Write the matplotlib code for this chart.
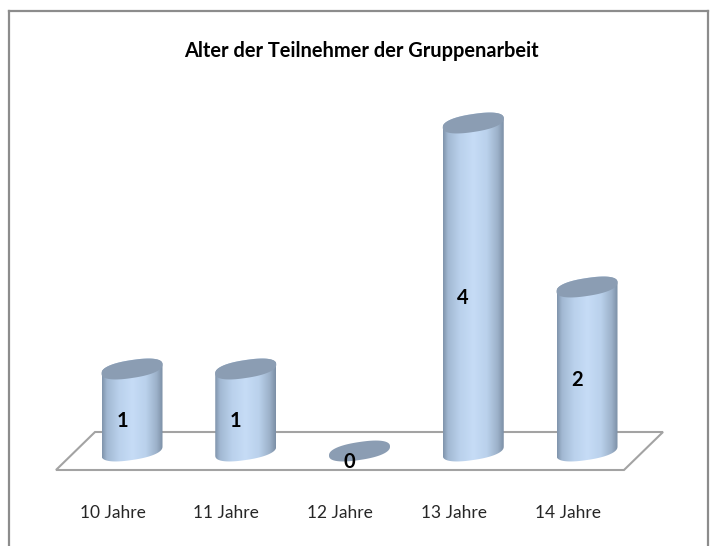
import matplotlib
matplotlib.use("Agg")
import matplotlib.pyplot as plt
import numpy as np
from matplotlib.patches import Polygon

categories = ["10 Jahre", "11 Jahre", "12 Jahre", "13 Jahre", "14 Jahre"]
values = [1, 1, 0, 4, 2]
title = "Alter der Teilnehmer der Gruppenarbeit"

W, H = 712, 546
# pixel spacing of the categories and of one unit of value
PX_X = 113.75
PX_Y = 82.0
X0, Y0 = 132.0, 451.0

plt.rcParams['font.family'] = ['Lato', 'DejaVu Sans']

fig = plt.figure(figsize=(W / 100, H / 100), dpi=100)
left, right, top = 9, 708, 11
ax = fig.add_axes([left / W, 0, (right - left) / W, (H - top) / H])
xlim = ((left - X0) / PX_X, (right - X0) / PX_X)
ylim = ((Y0 - H) / PX_Y, (Y0 - top) / PX_Y)

for s in ['left', 'right', 'top']:
    ax.spines[s].set_color('#8c8c8c')
    ax.spines[s].set_linewidth(1.6)
ax.spines['bottom'].set_visible(False)
ax.set_xticks([])
ax.set_yticks([])

# floor
fx = (np.array([56, 95, 663, 624]) - X0) / PX_X
fy = (Y0 - np.array([470, 432, 432, 470])) / PX_Y
ax.add_patch(Polygon(np.column_stack([fx, fy]), closed=True, fc='white', ec='#a3a3a3', lw=1.5, zorder=1))

# horizontal shading of the cylinders
stops = [0, 0.08, 0.28, 0.5, 0.72, 0.9, 1]
cols = np.array([[0x80, 0x94, 0xac], [0xa2, 0xb8, 0xd2], [0xba, 0xd1, 0xec], [0xc6, 0xdc, 0xf6],
                 [0xba, 0xd1, 0xec], [0x9c, 0xb1, 0xc9], [0x7c, 0x8f, 0xa6]]) / 255
t = np.linspace(0, 1, 128)
grad = np.stack([np.interp(t, stops, cols[:, i]) for i in range(3)], axis=1)[None, :, :]

a = 30.5 / PX_X
b = 9.0 / PX_Y
k = 4.5 / PX_Y


def rim(i, v, ang):
    # slightly blunt, tilted ellipse around (i, v)
    c = np.sign(np.cos(ang)) * np.abs(np.cos(ang)) ** 0.85
    s = np.sign(np.sin(ang)) * np.abs(np.sin(ang)) ** 0.85
    return i + a * c, v + b * s + k * c


for i, v in enumerate(values):
    if v > 0:
        # lower half of base ellipse (left to right), then upper half of the top one
        lx, ly = rim(i, 0, np.linspace(np.pi, 2 * np.pi, 60))
        ux, uy = rim(i, v, np.linspace(0, np.pi, 60))
        body = Polygon(np.column_stack([np.r_[lx, ux], np.r_[ly, uy]]), closed=True, transform=ax.transData)
        im = ax.imshow(grad, extent=(i - a, i + a, -0.3, v + 0.3), aspect='auto', zorder=2,
                       interpolation='bilinear')
        im.set_clip_path(body)
    ex, ey = rim(i, v, np.linspace(0, 2 * np.pi, 120))
    ax.fill(ex, ey, color='#8b9db3', lw=0, zorder=3)
    ax.annotate(str(v), (i, v / 2), xytext=(-7.2, -8.2), textcoords='offset points', ha='center',
                va='center', fontsize=14.5, fontweight='bold', color='black', zorder=4)
    ax.annotate(categories[i], (i, 0), xytext=(-14, -44.5), textcoords='offset points', ha='center',
                va='center', fontsize=12.5, color='#262626', zorder=4)

ax.set_xlim(xlim)
ax.set_ylim(ylim)

fig.text(361 / W, 1 - 51 / H, title, ha='center', va='center', fontsize=14.4, fontweight='bold', color='black')

fig.savefig("out.png", dpi=100)
